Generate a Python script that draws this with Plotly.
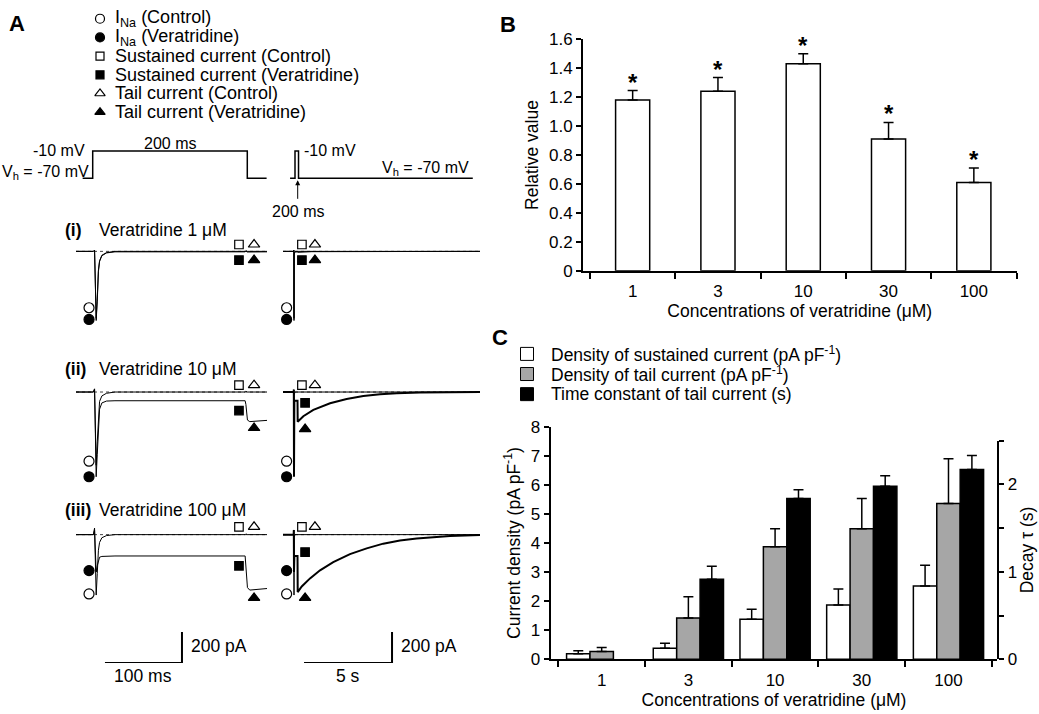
import plotly.graph_objects as go

W, H = 1039, 714
FONT = "Liberation Sans, Arial, Helvetica, sans-serif"

# ---------------- Panel B data ----------------
categories = ["1", "3", "10", "30", "100"]
relative_value = [1.18, 1.24, 1.43, 0.91, 0.61]
relative_sem = [0.065, 0.095, 0.07, 0.115, 0.10]
b_tickvals = [0, 0.2, 0.4, 0.6, 0.8, 1.0, 1.2, 1.4, 1.6]
b_ticktext = ["0", "0.2", "0.4", "0.6", "0.8", "1.0", "1.2", "1.4", "1.6"]

# ---------------- Panel C data ----------------
sustained_density = [0.19, 0.38, 1.38, 1.87, 2.52]
sustained_sem = [0.10, 0.17, 0.34, 0.55, 0.72]
tail_density = [0.27, 1.42, 3.87, 4.49, 5.36]
tail_sem = [0.13, 0.73, 0.62, 1.04, 1.54]
tau_s = [None, 0.915, 1.84, 1.98, 2.17]
tau_sem = [None, 0.15, 0.10, 0.12, 0.16]
c_left_ticks = [0, 1, 2, 3, 4, 5, 6, 7, 8]
c_right_ticks = [0, 1, 2]
c_right_minor = [0.5, 1.5, 2.5]
c_legend = ["Density of sustained current (pA pF<sup>-1</sup>)",
            "Density of tail current (pA pF<sup>-1</sup>)",
            "Time constant of tail current (s)"]

# ---------------- Panel A data ----------------
a_legend = ["I<sub>Na</sub> (Control)", "I<sub>Na</sub> (Veratridine)",
            "Sustained current (Control)", "Sustained current (Veratridine)",
            "Tail current (Control)", "Tail current (Veratridine)"]
row_labels = ["(i)", "(ii)", "(iii)"]
row_titles = ["Veratridine 1 μM", "Veratridine 10 μM", "Veratridine 100 μM"]

# voltage protocols
prot_long_t = [-13, 0, 0, 200, 200, 225]          # ms
prot_long_v = [-70, -70, -10, -10, -70, -70]       # mV
prot_short_t = [-0.28, 0, 0, 0.2, 0.2, 10.1]       # s
prot_short_v = [-70, -70, -10, -10, -70, -70]      # mV

# 200-ms step traces (ms, pA)
left_t = [-25.6, -3, -1.5, -0.5, 0.6, 2, 3.5, 5, 8, 14, 25, 194, 195, 196.5, 222.4]
ctrl_left_i = [0, 0, 8, -150, -430, -300, -120, -60, -25, -8, 0, 0, 5, 0, 0]
vera_left_i = [0, 0, 8, -160, -444, -320, -130, -65, -28, -10, -3, -3, 2, -4, -3]
ctrl_left_ii = [0, 0, 20, -160, -470, -320, -130, -60, -25, -8, 0, 0, 5, 0, 0]
ctrl_left_iii = [0, 0, 42, -150, -388, -250, -100, -50, -20, -6, 0, 0, 5, 0, 0]
vera_left_t = [-25.6, -3, -1.5, -0.5, 0.6, 2, 3.5, 5, 8, 14, 25, 194, 195, 197, 200, 210, 222.4]
vera_left_ii = [0, 0, 20, -180, -544, -400, -200, -110, -70, -58, -56, -56, -80, -180, -190, -185, -182]
vera_left_iii = [0, 0, 30, -120, -240, -200, -160, -145, -140, -138, -137, -137, -200, -340, -356, -350, -346]

# tail-current recordings (s, pA)
ctrl_right_t = [-0.625, -0.02, -0.01, 0.0, 0.01, 0.05, 10.568]
ctrl_right_i = [0, 0, 8, -430, -20, 0, 0]
ctrl_right_ii = [0, 0, 15, -470, -20, 0, 0]
ctrl_right_iii = [0, 0, 30, -388, -20, 0, 0]
vera_right_i_t = [-0.625, -0.02, -0.01, 0.0, 0.02, 0.2, 0.21, 1.0, 10.568]
vera_right_i = [0, 0, 8, -444, -5, -3, -6, -2, 0]
vera_right_ii_t = [-0.625, -0.02, -0.01, 0.0, 0.02, 0.2, 0.21, 0.53, 1.10, 2.05, 2.99, 3.94, 4.89, 5.84, 7.16, 10.568]
vera_right_ii = [0, 0, 15, -544, -56, -56, -191, -155, -114, -72, -45, -26, -14, -7.5, -3, 0]
vera_right_iii_t = [-0.625, -0.02, -0.01, 0.0, 0.02, 0.2, 0.21, 0.44, 0.91, 1.48, 2.23, 3.18, 4.13, 5.07, 6.02, 6.97, 7.92, 8.86, 10.568]
vera_right_iii = [0, 0, 30, -240, -137, -137, -369, -333, -281, -229, -177, -125, -88, -58, -37.5, -25, -15, -8, -2]

# symbol levels (pA) for rows i, ii, iii
ina_ctrl_mark = [-362, -444, -381]
ina_vera_mark = [-437, -544, -231]
ctrl_mark = [44, 44, 50]
sus_vera_mark_left = [-56, -119, -200]
tail_vera_mark_left = [-56, -231, -406]
sus_vera_mark_right = [-56, -69, -112]
tail_vera_mark_right = [-56, -238, -406]

# scale bars
scale_ms = 100
scale_s = 5
scale_pA = 200

# ---------------- helpers ----------------
def xd(a, b):
    return [a / W, b / W]

def yd(top, bottom):
    return [1 - bottom / H, 1 - top / H]

fig = go.Figure()
layout = {}
annotations = []

def hidden_axes(n, xdom, xr, ydom, yr):
    layout[f"xaxis{n}"] = dict(visible=False, domain=xdom, range=xr, anchor=f"y{n}", fixedrange=True)
    layout[f"yaxis{n}"] = dict(visible=False, domain=ydom, range=yr, anchor=f"x{n}", fixedrange=True)

def line(n, x, y, width=1, dash=None, color="black"):
    fig.add_trace(go.Scatter(x=x, y=y, mode="lines", xaxis=f"x{n}", yaxis=f"y{n}",
                             line=dict(color=color, width=width, dash=dash), cliponaxis=False,
                             hoverinfo="skip", showlegend=False))

def mark(n, x, y, symbol, filled, size):
    fig.add_trace(go.Scatter(x=[x], y=[y], mode="markers", xaxis=f"x{n}", yaxis=f"y{n}",
                             marker=dict(symbol=symbol, size=size,
                                         color="black" if filled else "white",
                                         line=dict(color="black", width=1.2)),
                             cliponaxis=False, hoverinfo="skip", showlegend=False))

def ann(text, x, y, size=17, xanchor="center", yanchor="middle", angle=0):
    annotations.append(dict(text=text, x=x / W, y=1 - y / H, xref="paper", yref="paper",
                            xanchor=xanchor, yanchor=yanchor, showarrow=False, textangle=angle,
                            font=dict(family=FONT, size=size, color="black")))

# ================= Panel B =================
fig.add_trace(go.Bar(x=list(range(5)), y=relative_value, width=0.4, xaxis="x", yaxis="y",
                     marker=dict(color="white", line=dict(color="black", width=1.5)),
                     error_y=dict(type="data", array=relative_sem, arrayminus=[0] * 5,
                                  symmetric=False, width=5, thickness=1.5, color="black"),
                     hoverinfo="skip", showlegend=False))
for i, (v, s) in enumerate(zip(relative_value, relative_sem)):
    annotations.append(dict(text="<b>*</b>", x=i, y=v + s, xref="x", yref="y",
                            xanchor="center", yanchor="bottom", yshift=-7, showarrow=False,
                            font=dict(family=FONT, size=24, color="black")))

cat_minor = [i - 0.5 for i in range(6)]
axis_common = dict(showline=True, linecolor="black", linewidth=2, showgrid=False, zeroline=False,
                   tickfont=dict(family=FONT, size=17, color="black"), fixedrange=True)
layout["xaxis"] = dict(axis_common, domain=xd(583, 1016.5), range=[-0.582, 4.5], anchor="y",
                       tickmode="array", tickvals=list(range(5)), ticktext=categories,
                       ticks="outside", ticklen=4, tickcolor="rgba(0,0,0,0)",
                       minor=dict(tickmode="array", tickvals=cat_minor, ticks="outside",
                                  ticklen=6, tickwidth=2, tickcolor="black"),
                       title=dict(text="Concentrations of veratridine (μM)", standoff=2,
                                  font=dict(family=FONT, size=17.5, color="black")))
layout["yaxis"] = dict(axis_common, domain=yd(31, 269), range=[0, 1.6], anchor="x",
                       tickmode="array", tickvals=b_tickvals, ticktext=b_ticktext,
                       ticks="outside", ticklen=5, tickwidth=2, tickcolor="black",
                       title=dict(text="Relative value", standoff=6,
                                  font=dict(family=FONT, size=17.5, color="black")))

# ================= Panel C =================
series_c = [
    (sustained_density, sustained_sem, "white", -0.405, "y2"),
    (tail_density, tail_sem, "#a6a6a6", -0.135, "y2"),
    (tau_s, tau_sem, "black", 0.135, "y3"),
]
for vals, sem, col, off, ya in series_c:
    fig.add_trace(go.Bar(x=list(range(5)), y=vals, width=0.27, offset=off, xaxis="x2", yaxis=ya,
                         marker=dict(color=col, line=dict(color="black", width=1.5)),
                         error_y=dict(type="data", array=sem, arrayminus=[0] * 5, symmetric=False,
                                      width=5, thickness=1.5, color="black"),
                         hoverinfo="skip", showlegend=False))

layout["xaxis2"] = dict(axis_common, domain=xd(550.7, 997.3), range=[-0.588, 4.563], anchor="y2",
                        tickmode="array", tickvals=list(range(5)), ticktext=categories,
                        ticks="outside", ticklen=4, tickcolor="rgba(0,0,0,0)",
                        minor=dict(tickmode="array", tickvals=cat_minor, ticks="outside",
                                   ticklen=6, tickwidth=2, tickcolor="black"),
                        title=dict(text="Concentrations of veratridine (μM)", standoff=1,
                                   font=dict(family=FONT, size=17.5, color="black")))
layout["yaxis2"] = dict(axis_common, domain=yd(429.3, 668), range=[0, 8], anchor="x2",
                        tickmode="array", tickvals=c_left_ticks,
                        ticks="outside", ticklen=5, tickwidth=2, tickcolor="black",
                        title=dict(text="Current density (pA pF<sup>-1</sup>)", standoff=6,
                                   font=dict(family=FONT, size=17.5, color="black")))
layout["yaxis3"] = dict(axis_common, domain=yd(443.5, 668), range=[0, 2.5], anchor="x2", side="right",
                        tickmode="array", tickvals=c_right_ticks,
                        ticks="outside", ticklen=5, tickwidth=2, tickcolor="black",
                        minor=dict(tickmode="array", tickvals=c_right_minor, ticks="outside",
                                   ticklen=5, tickwidth=2, tickcolor="black"),
                        title=dict(text="Decay τ (s)", standoff=2,
                                   font=dict(family=FONT, size=17.5, color="black")))

# Panel C legend
hidden_axes(15, xd(517, 537), [-1, 1], yd(344, 406), [2.5, -0.5])
for i, col in enumerate(["white", "#a6a6a6", "black"]):
    fig.add_trace(go.Scatter(x=[0], y=[i], mode="markers", xaxis="x15", yaxis="y15",
                             marker=dict(symbol="square", size=13, color=col,
                                         line=dict(color="black", width=1)),
                             cliponaxis=False, hoverinfo="skip", showlegend=False))
for i, t in enumerate(c_legend):
    ann(t, 549, 354.5 + i * 20.7, size=17.5, xanchor="left")

# ================= Panel A =================
# legend
hidden_axes(4, xd(90, 110), [-1, 1], yd(0.4, 115.6), [5.5, -0.5])
leg_syms = [("circle", False, 9), ("circle", True, 9), ("square", False, 8),
            ("square", True, 8), ("triangle-up", False, 9), ("triangle-up", True, 9)]
for i, (s, f, sz) in enumerate(leg_syms):
    mark(4, 0, i, s, f, sz)
for i, t in enumerate(a_legend):
    ann(t, 113, 10 + i * 19.2, size=18, xanchor="left")

# protocols
hidden_axes(5, xd(76, 267), [-21.6, 225.5], yd(140, 180), [-82.86, 2.86])
line(5, prot_long_t, prot_long_v, width=1.5)
hidden_axes(6, xd(283, 480), [-0.682, 10.51], yd(140, 180), [-82.86, 2.86])
line(6, prot_short_t, prot_short_v, width=1.5)
ann("-10 mV", 87, 145, size=16, xanchor="right")
ann("V<sub>h</sub> = -70 mV", 0, 168, size=16, xanchor="left")
ann("200 ms", 170, 138, size=16)
ann("-10 mV", 302, 145, size=16, xanchor="left")
ann("V<sub>h</sub> = -70 mV", 471, 164, size=16, xanchor="right")
ann("200 ms", 298, 208, size=16)
annotations.append(dict(x=297.7 / W, y=1 - 176 / H, xref="paper", yref="paper", text="",
                        showarrow=True, ax=0, ay=20, arrowhead=2, arrowsize=1, arrowwidth=1,
                        arrowcolor="black"))

# traces
ROW_Y = [(234, 344), (378.5, 488.5), (525, 635)]
LEFT_R = [-25.6, 222.4]
RIGHT_R = [-0.625, 10.568]
PA_R = [-593.75, 93.75]
ctrl_left = [ctrl_left_i, ctrl_left_ii, ctrl_left_iii]
vera_left = [(left_t, vera_left_i), (vera_left_t, vera_left_ii), (vera_left_t, vera_left_iii)]
ctrl_right = [ctrl_right_i, ctrl_right_ii, ctrl_right_iii]
vera_right = [(vera_right_i_t, vera_right_i, 1), (vera_right_ii_t, vera_right_ii, 2),
              (vera_right_iii_t, vera_right_iii, 2)]
right_fsq_t = [0.45, 0.63, 0.63]
right_ftri_t = [1.19, 0.63, 0.63]
label_y = [227, 370, 515]

for r in range(3):
    nl, nr = 7 + r, 10 + r
    hidden_axes(nl, xd(76, 267), LEFT_R, yd(*ROW_Y[r]), PA_R)
    hidden_axes(nr, xd(283, 480), RIGHT_R, yd(*ROW_Y[r]), PA_R)
    # dotted zero lines
    line(nl, LEFT_R, [0, 0], width=1, dash="dot", color="#444")
    line(nr, RIGHT_R, [0, 0], width=1, dash="dot", color="#444")
    # current traces
    line(nl, left_t, ctrl_left[r], width=1)
    line(nl, vera_left[r][0], vera_left[r][1], width=1)
    line(nr, ctrl_right_t, ctrl_right[r], width=1)
    line(nr, vera_right[r][0], vera_right[r][1], width=vera_right[r][2])
    # symbols, left
    mark(nl, -8.7, ina_ctrl_mark[r], "circle", False, 10)
    mark(nl, -8.7, ina_vera_mark[r], "circle", True, 10)
    mark(nl, 186, ctrl_mark[r], "square", False, 8.5)
    mark(nl, 205.6, ctrl_mark[r], "triangle-up", False, 10)
    mark(nl, 186, sus_vera_mark_left[r], "square", True, 8.5)
    mark(nl, 205.6, tail_vera_mark_left[r], "triangle-up", True, 10)
    # symbols, right
    mark(nr, -0.42, ina_ctrl_mark[r], "circle", False, 10)
    mark(nr, -0.42, ina_vera_mark[r], "circle", True, 10)
    mark(nr, 0.45, ctrl_mark[r], "square", False, 8.5)
    mark(nr, 1.19, ctrl_mark[r], "triangle-up", False, 10)
    mark(nr, right_fsq_t[r], sus_vera_mark_right[r], "square", True, 8.5)
    mark(nr, right_ftri_t[r], tail_vera_mark_right[r], "triangle-up", True, 10)
    # labels
    ann("<b>" + row_labels[r] + "</b>", 63, label_y[r], size=17.5, xanchor="left")
    ann(row_titles[r], 97, label_y[r], size=17.5, xanchor="left")

# scale bars
hidden_axes(13, xd(76, 267), LEFT_R, yd(640, 672), [0, scale_pA])
line(13, [12, 12 + scale_ms, 12 + scale_ms], [0, 0, scale_pA], width=2)
hidden_axes(14, xd(283, 480), RIGHT_R, yd(640, 672), [0, scale_pA])
line(14, [0.57, 0.57 + scale_s, 0.57 + scale_s], [0, 0, scale_pA], width=2)
ann(f"{scale_pA} pA", 189, 654, size=17.5, xanchor="left")
ann(f"{scale_ms} ms", 143, 685, size=17.5)
ann(f"{scale_pA} pA", 399, 654, size=17.5, xanchor="left")
ann(f"{scale_s} s", 348, 685, size=17.5)

# panel letters
ann("<b>A</b>", 17, 15, size=22)
ann("<b>B</b>", 508, 16, size=22)
ann("<b>C</b>", 500, 337, size=22)

fig.update_layout(layout)
fig.update_layout(width=W, height=H, margin=dict(l=0, r=0, t=0, b=0),
                  paper_bgcolor="white", plot_bgcolor="rgba(0,0,0,0)",
                  barmode="overlay", showlegend=False, annotations=annotations,
                  font=dict(family=FONT, size=17, color="black"))
fig.write_html("out.html", config={"displayModeBar": False},
               post_script="document.body.style.margin='0';")
